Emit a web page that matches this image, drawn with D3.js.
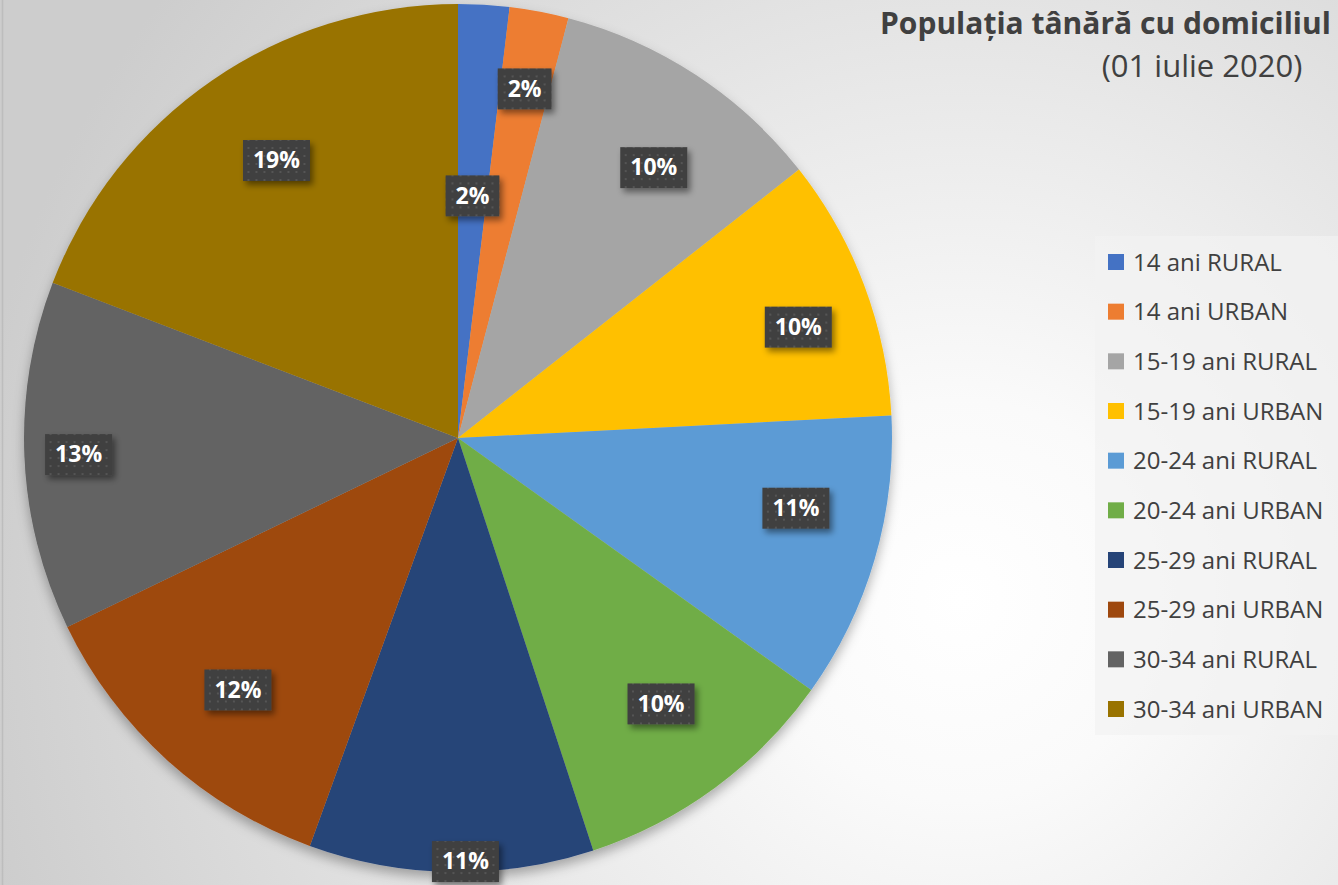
<!DOCTYPE html>
<html>
<head>
<meta charset="utf-8">
<script src="https://cdn.jsdelivr.net/npm/d3@7/dist/d3.min.js"></script>
<style>
  body { margin: 0; background: #fff; }
  svg { display: block; font-family: 'Open Sans', Lato, sans-serif; }
</style>
</head>
<body>
<div id="chart"></div>
<script>
// categories and shares (percent of young population)
const categories = ['14 ani RURAL', '14 ani URBAN', '15-19 ani RURAL', '15-19 ani URBAN',
  '20-24 ani RURAL', '20-24 ani URBAN', '25-29 ani RURAL', '25-29 ani URBAN',
  '30-34 ani RURAL', '30-34 ani URBAN'];
const shares = [1.9, 2.2, 10.3, 9.8, 10.7, 10.1, 10.6, 12.3, 13.0, 19.2];
const colors = ['#4472c4', '#ed7d31', '#a5a5a5', '#ffc000', '#5b9bd5',
  '#70ad47', '#264478', '#9e480e', '#636363', '#997300'];
const titleLines = ['Populația tânără cu domiciliul', '(01 iulie 2020)'];

// excel "best fit" label placement: distance (fraction of radius) and
// where along the slice the label sits (0 = start edge, 1 = end edge)
const labelDist = [0.56, 0.82, 0.77, 0.825, 0.795, 0.77, 0.975, 0.77, 0.875, 0.765];
const labelAlong = [0.5, 0.5, 0.57, 0.57, 0.38, 0.47, 0.45, 0.48, 0.5, 0.52];

const width = 1338, height = 885;
const cx = 458, cy = 438, radius = 434;

const svg = d3.select('#chart').append('svg')
  .attr('width', width)
  .attr('height', height);

const defs = svg.append('defs');

const bg = defs.append('radialGradient')
  .attr('id', 'bg')
  .attr('gradientUnits', 'userSpaceOnUse')
  .attr('cx', 960).attr('cy', 600).attr('r', 1000);
bg.append('stop').attr('offset', '0%').attr('stop-color', '#ffffff');
bg.append('stop').attr('offset', '20%').attr('stop-color', '#fafafa');
bg.append('stop').attr('offset', '100%').attr('stop-color', '#cdcdcd');

const pieShadow = defs.append('filter').attr('id', 'pieShadow')
  .attr('x', '-10%').attr('y', '-10%').attr('width', '120%').attr('height', '120%');
pieShadow.append('feDropShadow')
  .attr('dx', 0).attr('dy', 6).attr('stdDeviation', 6)
  .attr('flood-color', '#000').attr('flood-opacity', 0.3);

const boxShadow = defs.append('filter').attr('id', 'boxShadow')
  .attr('x', '-30%').attr('y', '-30%').attr('width', '160%').attr('height', '160%');
boxShadow.append('feDropShadow')
  .attr('dx', 3).attr('dy', 4).attr('stdDeviation', 3)
  .attr('flood-color', '#000').attr('flood-opacity', 0.45);

const dots = defs.append('pattern').attr('id', 'dots')
  .attr('patternUnits', 'userSpaceOnUse')
  .attr('width', 8).attr('height', 8);
dots.append('rect').attr('width', 8).attr('height', 8).attr('fill', '#404040');
dots.append('rect').attr('x', 3).attr('y', 3).attr('width', 2).attr('height', 2).attr('fill', '#555555');

svg.append('rect')
  .attr('width', width).attr('height', height)
  .attr('fill', 'url(#bg)');
svg.append('line')
  .attr('x1', 2.5).attr('x2', 2.5).attr('y1', 0).attr('y2', height)
  .attr('stroke', '#bdbdbd').attr('stroke-width', 1.5);

const data = categories.map((c, i) => ({
  name: c, value: shares[i], color: colors[i], dist: labelDist[i], along: labelAlong[i]
}));
const total = d3.sum(shares);

const pie = d3.pie().sort(null).value(d => d.value);
const arc = d3.arc().innerRadius(0).outerRadius(radius);

const g = svg.append('g').attr('transform', `translate(${cx},${cy})`);

g.append('g')
  .attr('filter', 'url(#pieShadow)')
  .selectAll('path')
  .data(pie(data))
  .join('path')
  .attr('d', arc)
  .attr('fill', d => d.data.color);

const fmt = d3.format('.0%');

const labels = g.selectAll('.lbl')
  .data(pie(data))
  .join('g')
  .attr('class', 'lbl')
  .attr('transform', d => {
    const a = d.startAngle + d.data.along * (d.endAngle - d.startAngle);
    const r = radius * d.data.dist;
    return `translate(${r * Math.sin(a)},${-r * Math.cos(a)})`;
  });

labels.each(function (d) {
  const sel = d3.select(this);
  const t = sel.append('text')
    .attr('text-anchor', 'middle')
    .attr('dy', '0.36em')
    .attr('fill', '#fff')
    .attr('font-weight', 'bold')
    .attr('font-size', 23)
    .text(fmt(d.data.value / total));
  const w = t.node().getComputedTextLength() + 20;
  sel.insert('rect', 'text')
    .attr('x', -w / 2).attr('y', -20)
    .attr('width', w).attr('height', 41)
    .attr('fill', 'url(#dots)')
    .attr('filter', 'url(#boxShadow)');
});

// title
svg.append('text')
  .attr('x', 880).attr('y', 34)
  .attr('font-size', 30).attr('font-weight', 'bold')
  .attr('fill', '#404040')
  .text(titleLines[0]);
svg.append('text')
  .attr('x', 1202).attr('y', 77)
  .attr('text-anchor', 'middle')
  .attr('font-size', 31)
  .attr('fill', '#404040')
  .text(titleLines[1]);

// legend
const legend = svg.append('g');
legend.append('rect')
  .attr('x', 1095).attr('y', 236)
  .attr('width', 243).attr('height', 499)
  .attr('fill', '#f2f2f2').attr('fill-opacity', 0.7);

const rowY = d3.scalePoint().domain(categories).range([262, 709]);

const rows = legend.selectAll('.row')
  .data(data)
  .join('g')
  .attr('class', 'row')
  .attr('transform', d => `translate(0,${rowY(d.name)})`);
rows.append('rect')
  .attr('x', 1108).attr('y', -8)
  .attr('width', 16).attr('height', 16)
  .attr('fill', d => d.color);
rows.append('text')
  .attr('x', 1133).attr('dy', '0.36em')
  .attr('font-size', 24)
  .attr('fill', '#404040')
  .text(d => d.name);
</script>
</body>
</html>
